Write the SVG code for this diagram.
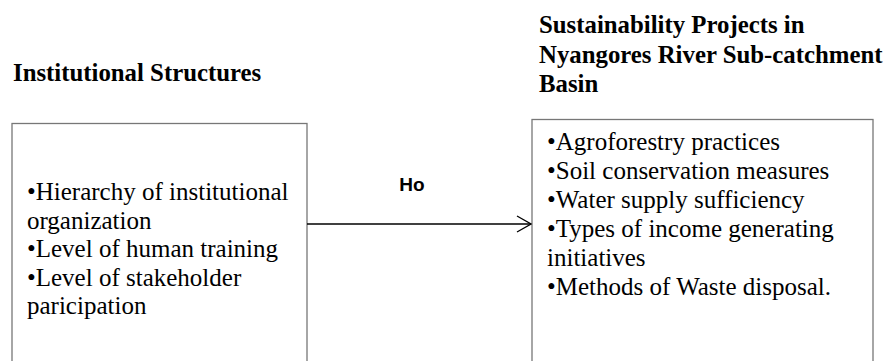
<svg xmlns="http://www.w3.org/2000/svg" width="895" height="361" viewBox="0 0 895 361">
<style>
.title{font-family:"Liberation Serif",serif;font-weight:bold;font-size:24.8px;fill:#000}
.item{font-family:"Liberation Serif",serif;font-size:25px;fill:#000}
.box{fill:#fff;stroke:#777;stroke-width:1.3}
.conn{stroke:#000;stroke-width:1.3;fill:none}
.lbl{font-family:"Liberation Sans",Arial,sans-serif;font-weight:bold;font-size:19px;fill:#000}
</style>
<defs>
<marker id="open" markerWidth="16" markerHeight="18" refX="15" refY="9" orient="auto" markerUnits="userSpaceOnUse">
<path d="M1,1 L15,9 L1,17" fill="none" stroke="#000" stroke-width="1.3"/>
</marker>
</defs>
<rect width="895" height="361" fill="#fff"/>
<g id="institutional">
<text class="title" x="13" y="81">Institutional Structures</text>
<rect class="box" x="12" y="123.5" width="295" height="250"/>
<text class="item" x="27" y="200">•Hierarchy of institutional</text>
<text class="item" x="27" y="228.5">organization</text>
<text class="item" x="27" y="257">•Level of human training</text>
<text class="item" x="27" y="285.5">•Level of stakeholder</text>
<text class="item" x="27" y="314">paricipation</text>
</g>
<g id="sustainability">
<text class="title" x="539" y="33">Sustainability Projects in</text>
<text class="title" x="539" y="63">Nyangores River Sub-catchment</text>
<text class="title" x="539" y="92">Basin</text>
<rect class="box" x="532" y="119.5" width="341" height="260"/>
<text class="item" x="547" y="150">•Agroforestry practices</text>
<text class="item" x="547" y="179">•Soil conservation measures</text>
<text class="item" x="547" y="208">•Water supply sufficiency</text>
<text class="item" x="547" y="237">•Types of income generating</text>
<text class="item" x="547" y="266">initiatives</text>
<text class="item" x="547" y="295">•Methods of Waste disposal.</text>
</g>
<g id="connectors">
<line class="conn" x1="307" y1="224" x2="531" y2="224" marker-end="url(#open)"/>
<text class="lbl" x="412" y="190.5" text-anchor="middle">Ho</text>
</g>
</svg>
